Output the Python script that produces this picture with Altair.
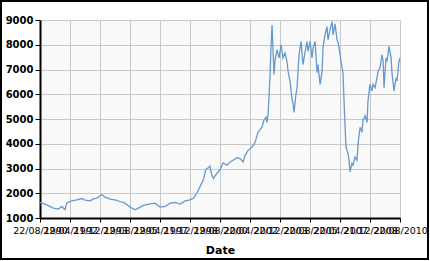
import altair as alt
import pandas as pd

# decimal-year positions and values
years = [
    1990.64, 1991.01, 1991.38, 1991.66, 1991.85, 1992.03, 1992.12, 1992.40, 1992.68, 1992.96,
    1993.14, 1993.42, 1993.60, 1993.79, 1994.07, 1994.25, 1994.53, 1994.81, 1995.08, 1995.36,
    1995.64, 1995.92, 1996.10, 1996.38, 1996.75, 1997.03, 1997.31, 1997.59, 1997.86, 1998.14,
    1998.42, 1998.70, 1998.97, 1999.16, 1999.35, 1999.53, 1999.71, 1999.85, 1999.99, 2000.08,
    2000.18, 2000.27, 2000.46, 2000.64, 2000.81, 2001.03, 2001.20, 2001.36, 2001.58, 2001.75,
    2001.92, 2002.03, 2002.20, 2002.42, 2002.59, 2002.75, 2002.97, 2003.08, 2003.20, 2003.25,
    2003.31, 2003.36, 2003.42, 2003.47, 2003.53, 2003.58, 2003.64, 2003.70, 2003.81, 2003.92,
    2004.03, 2004.14, 2004.25, 2004.36, 2004.42, 2004.53, 2004.64, 2004.70, 2004.75, 2004.86,
    2004.92, 2005.03, 2005.14, 2005.25, 2005.31, 2005.47, 2005.53, 2005.64, 2005.75, 2005.81,
    2005.92, 2006.03, 2006.08, 2006.20, 2006.31, 2006.36, 2006.47, 2006.58, 2006.64, 2006.75,
    2006.86, 2006.92, 2007.03, 2007.14, 2007.20, 2007.31, 2007.42, 2007.47, 2007.53, 2007.58,
    2007.64, 2007.75, 2007.81, 2007.86, 2007.97, 2008.03, 2008.14, 2008.25, 2008.31, 2008.42,
    2008.53, 2008.58, 2008.70, 2008.81, 2008.86, 2008.97, 2009.08, 2009.14, 2009.25, 2009.36,
    2009.42, 2009.53, 2009.64, 2009.70, 2009.75, 2009.86, 2009.92, 2010.03, 2010.14, 2010.20,
    2010.31, 2010.42, 2010.47, 2010.58, 2010.64,
]
values = [
    1627, 1533, 1400, 1360, 1467, 1333, 1600, 1693, 1733, 1787,
    1720, 1693, 1773, 1800, 1947, 1840, 1760, 1733, 1667, 1600,
    1440, 1333, 1400, 1507, 1573, 1600, 1440, 1467, 1600, 1627,
    1560, 1693, 1733, 1800, 2000, 2267, 2533, 2960, 3027, 3093,
    2733, 2600, 2800, 2950, 3227, 3133, 3267, 3333, 3440, 3400,
    3267, 3533, 3733, 3867, 4067, 4467, 4667, 4960, 5067, 4867,
    5200, 5867, 6800, 7867, 8800, 7867, 6800, 7400, 7800, 7467,
    8000, 7467, 7667, 7333, 6933, 6533, 5800, 5600, 5267, 6000,
    6267, 7600, 8133, 7200, 7467, 8133, 7733, 8133, 7467, 7867,
    8133, 6867, 7200, 6400, 6933, 7867, 8400, 8733, 8200, 8600,
    8933, 8400, 8850, 8200, 8100, 7600, 7067, 6867, 5733, 4800,
    3867, 3600, 3333, 2867, 3200, 3133, 3467, 3333, 4000, 4667,
    4467, 4933, 5133, 4867, 5733, 6400, 6133, 6400, 6267, 6667,
    6933, 7067, 7600, 7333, 6267, 7467, 7333, 7933, 7467, 6800,
    6133, 6667, 6533, 7333, 7467,
]
tick_dates = [
    "1990-08-22", "1992-04-22", "1993-12-21", "1995-08-22", "1997-04-22",
    "1998-12-21", "2000-08-22", "2002-04-22", "2003-12-22", "2005-08-22",
    "2007-04-22", "2008-12-21", "2010-08-22",
]
y_ticks = [1000, 2000, 3000, 4000, 5000, 6000, 7000, 8000, 9000]


def to_ms(y):
    base = pd.Timestamp(year=int(y), month=1, day=1)
    return int((base + pd.Timedelta(days=(y - int(y)) * 365.25)).value // 10**6)


tick_ms = [int(pd.Timestamp(d).value // 10**6) for d in tick_dates]
df = pd.DataFrame({"Date": [to_ms(y) for y in years], "Value": values})

line = alt.Chart(df).mark_line(color="#6699cc", strokeWidth=1.3).encode(
    x=alt.X(
        "Date:T",
        scale=alt.Scale(type="utc", domain=[tick_ms[0], tick_ms[-1]]),
        axis=alt.Axis(
            title="Date",
            values=tick_ms,
            labelExpr="utcFormat(datum.value, '%d/%m/%Y')",
            labelFontSize=9.5,
            labelFont="DejaVu Sans",
            labelColor="#000000",
            labelOverlap=False,
            labelFlush=False,
            labelPadding=3,
            tickSize=4,
            tickColor="#000000",
            domainColor="#000000",
            domainWidth=2,
            gridColor="#c8c8c8",
            titleFont="DejaVu Sans",
            titleFontSize=11,
            titleFontWeight="bold",
            titleColor="#000000",
            titlePadding=10,
        ),
    ),
    y=alt.Y(
        "Value:Q",
        scale=alt.Scale(domain=[1000, 9000], nice=False, zero=False),
        axis=alt.Axis(
            title=None,
            values=y_ticks,
            format="d",
            labelFontSize=10,
            labelFont="DejaVu Sans",
            labelFontWeight="bold",
            labelColor="#000000",
            labelPadding=2,
            tickSize=5,
            tickColor="#000000",
            domainColor="#000000",
            domainWidth=2,
            gridColor="#c8c8c8",
        ),
    ),
)

border = alt.Chart(pd.DataFrame({"a": [0]})).mark_rect(
    fill="transparent", stroke="#000000", strokeWidth=2
).encode(
    x=alt.value(-39), x2=alt.value(388), y=alt.value(-19), y2=alt.value(239)
)

chart = alt.layer(line, border).properties(
    width=360,
    height=198,
    autosize=alt.AutoSizeParams(type="none"),
    padding={"left": 40, "top": 20, "right": 30, "bottom": 43},
    background="#ffffff",
).configure_view(stroke="transparent", fill="#f9f9f9")

chart.save("out.html", embed_options={"renderer": "svg", "actions": False})
